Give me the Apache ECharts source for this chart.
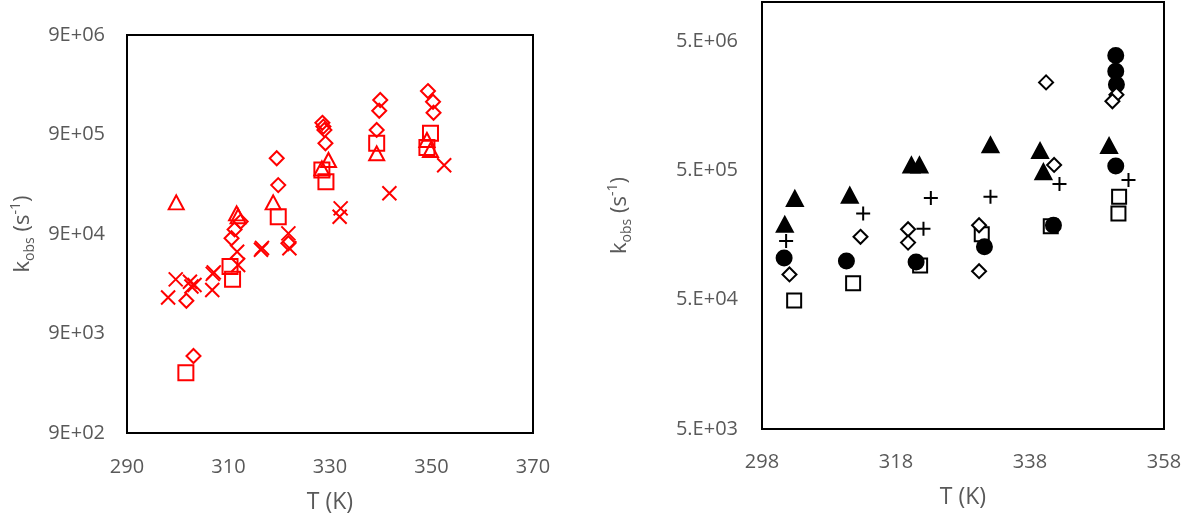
<!DOCTYPE html>
<html>
<head>
<meta charset="utf-8">
<script src="https://cdn.jsdelivr.net/npm/echarts@6/dist/echarts.min.js"></script>
<style>
  html, body { margin: 0; padding: 0; background: #fff; }
  #chart { width: 1189px; height: 521px; }
</style>
</head>
<body>
<div id="chart"></div>
<script>
// Left panel (red): [T (K), k_obs (s^-1)]
const leftDiamonds = [
  [301.7, 1.92e4], [303.1, 5.35e3], [310.6, 8.15e4], [311.2, 1.0e5], [312.4, 1.2e5],
  [319.5, 5.19e5], [319.8, 2.79e5], [321.8, 7.26e4], [328.5, 1.18e6], [328.7, 1.08e6],
  [328.9, 1.0e6], [329.1, 7.34e5], [339.9, 2.0e6], [339.7, 1.56e6], [339.2, 1.0e6],
  [349.3, 2.46e6], [350.3, 1.92e6], [350.4, 1.49e6]
];
const leftSquares = [
  [301.6, 3.63e3], [310.3, 4.24e4], [310.8, 3.15e4], [319.8, 1.34e5], [328.4, 3.95e5],
  [329.2, 3.02e5], [339.2, 7.34e5], [349.8, 9.25e5], [349.1, 6.68e5]
];
const leftTriangles = [
  [299.7, 1.87e5], [311.6, 1.45e5], [311.9, 1.36e5], [318.8, 1.87e5], [329.7, 4.99e5],
  [328.4, 4.11e5], [339.2, 5.82e5], [349.1, 7.92e5], [349.8, 6.28e5]
];
const leftCrosses = [
  [298.1, 2.07e4], [299.6, 3.15e4], [302.4, 2.98e4], [303.3, 2.76e4], [302.7, 2.67e4],
  [306.9, 3.58e4], [307.1, 3.7e4], [306.8, 2.46e4], [311.7, 5.97e4], [311.9, 4.39e4],
  [316.4, 6.25e4], [316.6, 6.5e4], [321.8, 9.14e4], [322.0, 6.46e4], [332.1, 1.63e5],
  [331.9, 1.34e5], [341.7, 2.31e5], [352.5, 4.41e5]
];

// Right panel (black): [T (K), k_obs (s^-1)]
const rightSquares = [
  [302.8, 4.92e4], [311.6, 6.7e4], [321.6, 9.2e4], [330.8, 1.6e5], [341.1, 1.85e5],
  [351.3, 3.12e5], [351.2, 2.32e5]
];
const rightCircles = [
  [301.3, 1.05e5], [310.6, 9.93e4], [321.0, 9.76e4], [331.2, 1.28e5], [341.5, 1.88e5],
  [350.8, 5.4e5], [350.8, 3.86e6], [350.8, 2.92e6], [350.9, 2.3e6]
];
const rightDiamonds = [
  [302.1, 7.83e4], [312.7, 1.53e5], [319.8, 1.75e5], [319.8, 1.38e5], [330.4, 1.88e5],
  [330.4, 8.3e4], [340.4, 2.39e6], [341.6, 5.5e5], [350.9, 1.92e6], [350.3, 1.71e6]
];
const rightTriangles = [
  [302.9, 3.03e5], [301.4, 1.91e5], [311.1, 3.21e5], [320.3, 5.5e5], [321.5, 5.5e5],
  [332.1, 7.86e5], [339.5, 7.1e5], [340.0, 4.88e5], [349.8, 7.76e5]
];
const rightPluses = [
  [301.6, 1.42e5], [313.1, 2.32e5], [323.2, 3.06e5], [322.1, 1.77e5], [332.1, 3.12e5],
  [342.4, 3.91e5], [352.7, 4.21e5]
];

// Axis ranges and tick labels
const leftXTicks = [290, 310, 330, 350, 370];
const leftYTickValues = [9e2, 9e3, 9e4, 9e5, 9e6];
const leftYTickLabels = ['9E+02', '9E+03', '9E+04', '9E+05', '9E+06'];
const rightXTicks = [298, 318, 338, 358];
const rightYTickValues = [5e3, 5e4, 5e5, 5e6];
const rightYTickLabels = ['5.E+03', '5.E+04', '5.E+05', '5.E+06'];
const rightYMax = 1e7;

const xTitle = 'T (K)';

const lg = Math.log10;
const FONT = 'Open Sans';
const LABEL_GREY = '#595959';
const CROSS = 'path://M0,0L10,10M0,10L10,0';
const PLUS = 'path://M5,0L5,10M0,5L10,5';

function yFormatter(values, labels) {
  return function (v) {
    for (let i = 0; i < values.length; i++) {
      if (Math.abs(lg(values[i]) - v) < 1e-6) return labels[i];
    }
    return '';
  };
}

function scatter(data, panel, symbol, size, color, fill, z) {
  return {
    type: 'scatter',
    xAxisIndex: panel,
    yAxisIndex: panel,
    data: data.map(p => [p[0], lg(p[1])]),
    symbol: symbol,
    symbolSize: size,
    z: z,
    silent: true,
    itemStyle: { color: fill, borderColor: color, borderWidth: 2, opacity: 1 },
    emphasis: { disabled: true }
  };
}

const yTitle = {
  name: '{k|k}{sub|obs}{n| (s}{sup|-1}{n|)}',
  nameLocation: 'middle',
  nameRotate: 90,
  nameTextStyle: {
    color: LABEL_GREY,
    fontFamily: FONT,
    rich: {
      k: { fontSize: 22, fontFamily: FONT, color: LABEL_GREY, lineHeight: 28 },
      n: { fontSize: 22, fontFamily: FONT, color: LABEL_GREY, lineHeight: 28 },
      sub: { fontSize: 14, fontFamily: FONT, color: LABEL_GREY, lineHeight: 14, verticalAlign: 'bottom' },
      sup: { fontSize: 14, fontFamily: FONT, color: LABEL_GREY, lineHeight: 14, verticalAlign: 'top' }
    }
  }
};

const labelStyle = { color: LABEL_GREY, fontFamily: FONT, fontSize: 20 };
const xTitleStyle = { color: LABEL_GREY, fontFamily: FONT, fontSize: 23 };
const hidden = { show: false };

const RED = '#ff0000';
const BLACK = '#000000';
const CLEAR = 'rgba(0,0,0,0)';

const option = {
  animation: false,
  backgroundColor: '#ffffff',
  grid: [
    { left: 127, top: 35, width: 406, height: 398, show: true, borderColor: '#000', borderWidth: 2, backgroundColor: 'transparent' },
    { left: 762, top: 2, width: 402, height: 427, show: true, borderColor: '#000', borderWidth: 2, backgroundColor: 'transparent' }
  ],
  xAxis: [
    {
      gridIndex: 0, type: 'value', min: leftXTicks[0], max: leftXTicks[leftXTicks.length - 1],
      axisLine: hidden, axisTick: hidden, splitLine: hidden,
      axisLabel: Object.assign({ margin: 24, customValues: leftXTicks }, labelStyle),
      name: xTitle, nameLocation: 'middle', nameGap: 58,
      nameTextStyle: xTitleStyle
    },
    {
      gridIndex: 1, type: 'value', min: rightXTicks[0], max: rightXTicks[rightXTicks.length - 1],
      axisLine: hidden, axisTick: hidden, splitLine: hidden,
      axisLabel: Object.assign({ margin: 23, customValues: rightXTicks }, labelStyle),
      name: xTitle, nameLocation: 'middle', nameGap: 57,
      nameTextStyle: xTitleStyle
    }
  ],
  yAxis: [
    Object.assign({}, yTitle, {
      gridIndex: 0, type: 'value',
      min: lg(leftYTickValues[0]), max: lg(leftYTickValues[leftYTickValues.length - 1]),
      axisLine: hidden, axisTick: hidden, splitLine: hidden,
      axisLabel: Object.assign({
        margin: 22,
        customValues: leftYTickValues.map(lg),
        formatter: yFormatter(leftYTickValues, leftYTickLabels)
      }, labelStyle),
      nameGap: 90
    }),
    Object.assign({}, yTitle, {
      gridIndex: 1, type: 'value',
      min: lg(rightYTickValues[0]), max: lg(rightYMax),
      axisLine: hidden, axisTick: hidden, splitLine: hidden,
      axisLabel: Object.assign({
        margin: 24,
        customValues: rightYTickValues.map(lg),
        formatter: yFormatter(rightYTickValues, rightYTickLabels)
      }, labelStyle),
      nameGap: 128
    })
  ],
  series: [
    scatter(leftDiamonds, 0, 'diamond', 14, RED, CLEAR, 2),
    scatter(leftSquares, 0, 'rect', 15, RED, CLEAR, 2),
    scatter(leftTriangles, 0, 'triangle', [15, 14], RED, CLEAR, 2),
    scatter(leftCrosses, 0, CROSS, 14, RED, CLEAR, 2),

    scatter(rightSquares, 1, 'rect', 14, BLACK, '#ffffff', 2),
    scatter(rightCircles, 1, 'circle', 15, BLACK, BLACK, 3),
    scatter(rightDiamonds, 1, 'diamond', 14, BLACK, '#ffffff', 4),
    scatter(rightTriangles, 1, 'triangle', [16, 15], BLACK, BLACK, 5),
    scatter(rightPluses, 1, PLUS, 14, BLACK, CLEAR, 6)
  ]
};

const chart = echarts.init(document.getElementById('chart'), null, { renderer: 'canvas' });
chart.setOption(option);
</script>
</body>
</html>
